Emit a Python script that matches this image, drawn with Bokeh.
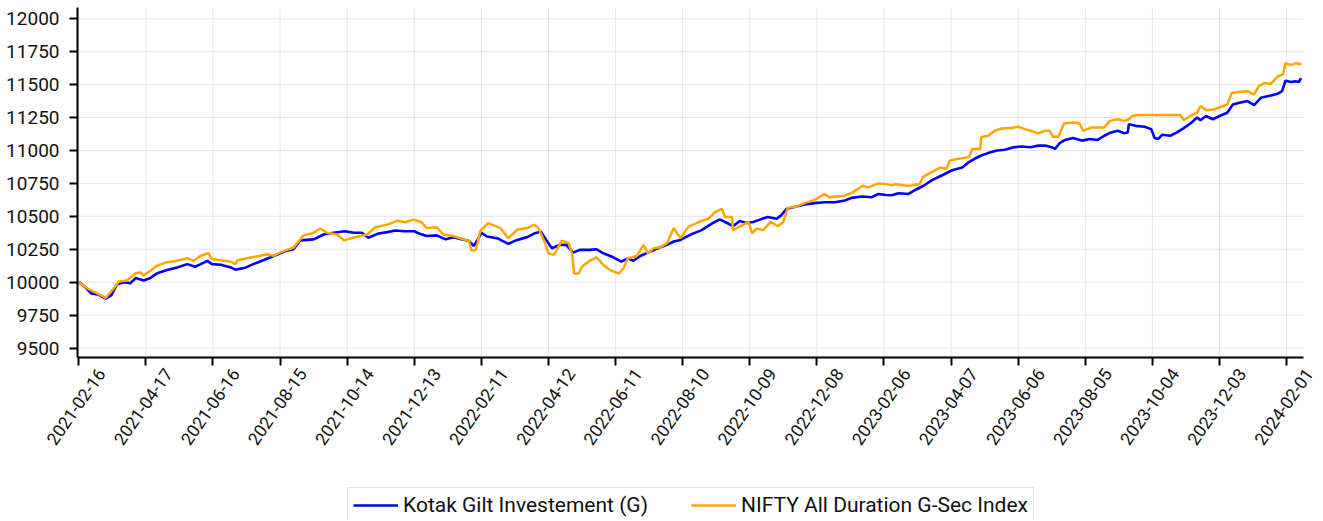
from datetime import datetime, timedelta
from bokeh.plotting import figure
from bokeh.models import (Range1d, FixedTicker, Legend, LegendItem, LabelSet, ColumnDataSource)
from bokeh.core.properties import value
from bokeh.embed import file_html
from bokeh.resources import INLINE
import math

START = datetime(2021, 2, 16)

# Kotak Gilt Investement (G): day offset from 2021-02-16, value
kotak_days = [0, 5, 11, 17, 24, 29, 34, 40, 46, 51, 58, 64, 70, 79, 88, 97, 104, 109, 115, 119, 127, 136, 140, 148, 156, 165, 171, 178,
              185, 192, 198, 210, 219, 228, 238, 246, 253, 259, 267, 276, 283, 291, 300, 305, 311, 320, 328, 335, 343, 349, 353, 356,
              360, 365, 374, 384, 392, 401, 408, 413, 418, 423, 430, 436, 442, 448, 457, 463, 469, 478, 485, 491, 496, 502, 511, 520, 526, 532, 538,
              548, 557, 566, 573, 578, 585, 591, 597, 603, 609, 616, 624, 628, 633, 640, 649, 658, 667, 676, 685, 691, 700, 709, 715,
              722, 727, 733, 742, 748, 755, 763, 772, 781, 790, 796, 801, 807, 813, 821, 828, 836, 843, 851, 858, 864, 870, 873, 877, 882, 889, 897, 904,
              911, 917, 923, 929, 935, 938, 939, 945, 953, 959, 962, 965, 969, 976, 982, 988, 994, 1000, 1003, 1008, 1014, 1020, 1027, 1032, 1038,
              1045, 1051, 1057, 1066, 1072, 1076, 1079, 1084, 1088, 1091, 1093]
kotak_vals = [10000, 9968, 9915, 9907, 9875, 9900, 9982, 10000, 9992, 10032, 10012, 10032, 10067, 10092, 10112, 10137, 10117, 10137, 10162, 10137, 10132, 10112, 10095, 10107, 10137, 10167, 10187, 10212,
              10237, 10250, 10317, 10325, 10362, 10375, 10387, 10375, 10375, 10337, 10367, 10380, 10392, 10387, 10387, 10367, 10350, 10355, 10325, 10342, 10325, 10312, 10275, 10312,
              10375, 10347, 10334, 10291, 10321, 10342, 10372, 10385, 10321, 10258, 10283, 10283, 10224, 10245, 10245, 10250, 10219, 10189, 10156, 10181, 10163, 10199, 10232, 10265, 10283, 10309, 10321,
              10365, 10395, 10445, 10477, 10457, 10425, 10465, 10450, 10457, 10475, 10495, 10482, 10507, 10557, 10570, 10590, 10600, 10607, 10607, 10620, 10640, 10650, 10645, 10670,
              10662, 10660, 10675, 10670, 10700, 10730, 10775, 10812, 10850, 10870, 10912, 10937, 10962, 10980, 11000, 11005, 11025, 11030, 11025, 11037, 11037, 11025, 11012, 11055, 11080, 11095, 11075, 11087,
              11080, 11112, 11137, 11150, 11130, 11137, 11200, 11187, 11180, 11162, 11095, 11087, 11120, 11112, 11137, 11170, 11205, 11250, 11230, 11262, 11237, 11262, 11287, 11350, 11362,
              11375, 11345, 11400, 11417, 11430, 11450, 11530, 11520, 11525, 11520, 11550]

# NIFTY All Duration G-Sec Index
nifty_days = [0, 8, 17, 24, 31, 36, 43, 51, 55, 58, 64, 70, 78, 88, 97, 103, 109, 113, 116, 119, 127, 136, 140, 142, 154, 162, 168, 174, 180,
              185, 192, 201, 210, 216, 222, 231, 237, 245, 252, 258, 265, 276, 285, 292, 299, 306, 311, 320, 326, 335, 344, 349, 351, 355, 359,
              366, 377, 384, 392, 401, 407, 411, 417, 420, 425, 432, 438, 441, 443, 447, 450, 457, 463, 469, 475, 483, 487, 491, 499, 505, 509, 514, 520, 526, 532, 538, 545,
              557, 563, 569, 575, 578, 584, 585, 593, 599, 602, 606, 612, 619, 625, 630, 634, 642, 649, 658, 667, 671, 685, 692, 701, 706, 715, 722,
              727, 730, 742, 752, 755, 763, 770, 776, 779, 787, 796, 799, 806, 807, 813, 819, 825, 834, 840, 846, 851, 858, 864, 868, 871, 876, 881, 889, 895, 898, 906,
              917, 922, 929, 935, 939, 942, 947, 985, 988, 994, 1000, 1003, 1008, 1015, 1021, 1027, 1031, 1038, 1045, 1051, 1055, 1060, 1066, 1072, 1077, 1079, 1084, 1088, 1093]
nifty_vals = [10000, 9950, 9912, 9880, 9950, 10005, 10012, 10067, 10075, 10050, 10087, 10125, 10150, 10162, 10182, 10162, 10200, 10212, 10220, 10175, 10167, 10155, 10137, 10167, 10187, 10200, 10212, 10200, 10225,
              10242, 10262, 10355, 10375, 10407, 10375, 10362, 10317, 10337, 10350, 10362, 10417, 10437, 10467, 10455, 10475, 10457, 10412, 10417, 10362, 10350, 10325, 10312, 10242, 10242, 10387,
              10449, 10411, 10334, 10398, 10411, 10436, 10411, 10296, 10219, 10207, 10316, 10296, 10219, 10066, 10066, 10117, 10163, 10189, 10130, 10092, 10066, 10105, 10181, 10199, 10283, 10219, 10258, 10265, 10296, 10411, 10334, 10420,
              10465, 10482, 10532, 10557, 10495, 10495, 10395, 10432, 10457, 10370, 10407, 10395, 10457, 10425, 10457, 10565, 10575, 10600, 10625, 10670, 10645, 10657, 10682, 10732, 10720, 10750, 10745,
              10735, 10745, 10730, 10745, 10800, 10837, 10870, 10862, 10925, 10937, 10950, 11012, 11012, 11100, 11112, 11150, 11167, 11170, 11180, 11162, 11150, 11130, 11150, 11150, 11105, 11105, 11205, 11212, 11205, 11150, 11175,
              11175, 11225, 11237, 11225, 11237, 11262, 11270, 11270, 11230, 11262, 11287, 11337, 11305, 11312, 11330, 11350, 11437, 11445, 11450, 11425, 11487, 11512, 11505, 11562, 11580, 11662, 11650, 11662, 11655]

tick_dates = ["2021-02-16", "2021-04-17", "2021-06-16", "2021-08-15", "2021-10-14", "2021-12-13",
              "2022-02-11", "2022-04-12", "2022-06-11", "2022-08-10", "2022-10-09", "2022-12-08",
              "2023-02-06", "2023-04-07", "2023-06-06", "2023-08-05", "2023-10-04", "2023-12-03", "2024-02-01"]
y_ticks = [9500, 9750, 10000, 10250, 10500, 10750, 11000, 11250, 11500, 11750, 12000]
y_tick_labels = [str(v) for v in y_ticks]

FONT = "Roboto"

# layout constants (pixels / scale)
FW, FH = 1320, 519              # the frame holds everything, labels included
PX_PER_DAY = 1.1183
PX_PER_UNIT = 0.13168
AX_LEFT_PX, AX_RIGHT_PX, AX_BOTTOM_PX = 77, 1303, 357   # axis positions inside the frame
TOP_TICK_PX = 18.3              # px of the 12000 tick from frame top
FIRST_TICK_PX = 78.3            # px of first date tick from frame left


def to_ms(d):
    return (d - datetime(1970, 1, 1)).total_seconds() * 1000.0


def day_ms(days):
    return to_ms(START + timedelta(days=days))


kotak_x = [START + timedelta(days=d) for d in kotak_days]
nifty_x = [START + timedelta(days=d) for d in nifty_days]
tick_ms = [to_ms(datetime.strptime(t, "%Y-%m-%d")) for t in tick_dates]

Y1 = y_ticks[-1] + TOP_TICK_PX / PX_PER_UNIT
x_lo = day_ms(-FIRST_TICK_PX / PX_PER_DAY)
x_hi = day_ms((FW - FIRST_TICK_PX) / PX_PER_DAY)
x_axis_l = day_ms((AX_LEFT_PX - FIRST_TICK_PX) / PX_PER_DAY)
x_axis_r = day_ms((AX_RIGHT_PX - FIRST_TICK_PX) / PX_PER_DAY)
y_lo = Y1 - FH / PX_PER_UNIT
y_axis_b = Y1 - AX_BOTTOM_PX / PX_PER_UNIT
y_axis_t = Y1 - 7 / PX_PER_UNIT

p = figure(frame_width=FW, frame_height=FH, x_axis_type="datetime", output_backend="svg",
           toolbar_location=None, x_range=Range1d(x_lo, x_hi), y_range=Range1d(y_lo, Y1),
           x_axis_location="above", y_axis_location="right",
           min_border_left=0, min_border_right=0, min_border_top=0, min_border_bottom=0)
p.outline_line_color = None
p.background_fill_color = "white"
p.border_fill_color = "white"
p.xgrid.visible = False
p.ygrid.visible = False

# grid lines (only over the plotting band)
GRID = "#e5e5e5"
p.segment(x0=tick_ms, x1=tick_ms, y0=[y_axis_b] * len(tick_ms), y1=[y_axis_t] * len(tick_ms),
          line_color=GRID, line_width=1)
p.segment(x0=[x_axis_l] * len(y_ticks), x1=[x_axis_r] * len(y_ticks), y0=y_ticks, y1=y_ticks,
          line_color=GRID, line_width=1)

r1 = p.line(kotak_x, kotak_vals, line_color="#0000ff", line_width=2.6)
r2 = p.line(nifty_x, nifty_vals, line_color="#ffa500", line_width=2.5)

# axes drawn at fixed positions inside the frame; ticks point outwards from the plot band
p.xaxis.ticker = FixedTicker(ticks=tick_ms)
p.xaxis.fixed_location = y_axis_b
p.xaxis.bounds = (x_axis_l, x_axis_r)
p.xaxis.major_label_overrides = {t: "" for t in tick_ms}
p.yaxis.ticker = FixedTicker(ticks=y_ticks)
p.yaxis.fixed_location = x_axis_l
p.yaxis.bounds = (y_axis_b, y_axis_t)
p.yaxis.major_label_overrides = {t: "" for t in y_ticks}
for ax in (p.xaxis, p.yaxis):
    ax.axis_line_color = "black"
    ax.axis_line_width = 2
    ax.major_tick_line_color = "black"
    ax.major_tick_line_width = 2
    ax.major_tick_out = 0
    ax.major_tick_in = 8
    ax.minor_tick_line_color = None
    ax.major_label_text_font_size = "0px"
    ax.major_label_standoff = 0

# y tick labels
ysrc = ColumnDataSource(dict(x=[x_axis_l] * len(y_ticks), y=y_ticks, text=y_tick_labels))
p.add_layout(LabelSet(x="x", y="y", text="text", source=ysrc, x_offset=-18,
                      text_align="right", text_baseline="middle",
                      text_font=value(FONT), text_font_size="19px", text_color="#111111"))

# rotated date tick labels, centred under each tick
xsrc = ColumnDataSource(dict(x=tick_ms, y=[y_axis_b] * len(tick_ms), text=tick_dates))
p.add_layout(LabelSet(x="x", y="y", text="text", source=xsrc, angle=math.radians(55),
                      text_align="center", text_baseline="middle", x_offset=-3, y_offset=-49,
                      text_font=value(FONT), text_font_size="17.5px", text_color="#111111"))

legend = Legend(items=[LegendItem(label="Kotak Gilt Investement (G)", renderers=[r1]),
                       LegendItem(label="NIFTY All Duration G-Sec Index", renderers=[r2])],
                orientation="horizontal", location=(347, -4))
legend.label_text_font = FONT
legend.label_text_font_size = "21px"
legend.label_text_color = "#111111"
legend.glyph_width = 45
legend.glyph_height = 20
legend.label_standoff = 5
legend.spacing = 43
legend.padding = 5
legend.margin = 0
legend.border_line_color = "#cccccc"
legend.border_line_width = 1.5
legend.background_fill_color = "white"
p.add_layout(legend, "center")

open("out.html", "w").write(file_html(p, INLINE))
